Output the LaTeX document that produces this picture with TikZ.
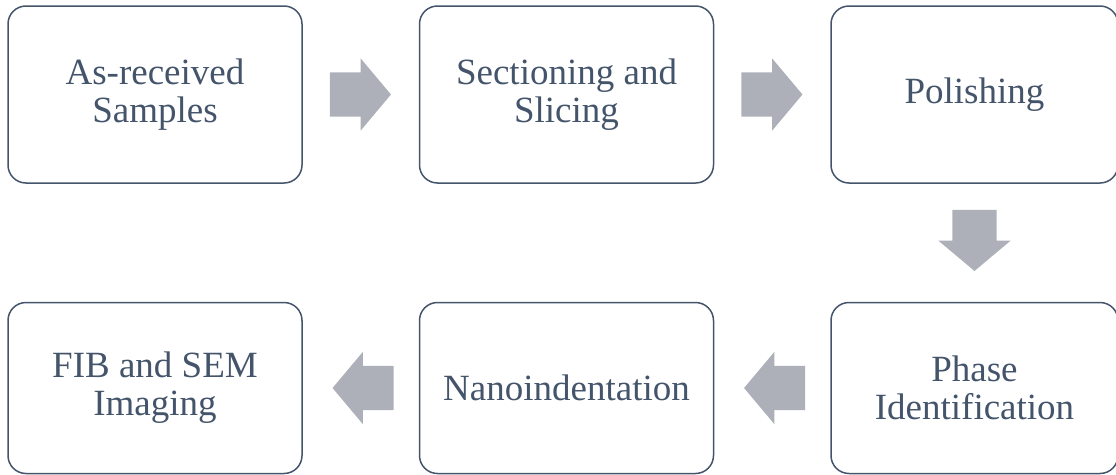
\documentclass[tikz,border=0pt]{standalone}
\usepackage{fontspec}
\setmainfont{Liberation Serif}
\usetikzlibrary{positioning,shapes.arrows,calc}
\definecolor{stageblue}{HTML}{44546A}
\definecolor{flowgray}{HTML}{ADB0B8}
\begin{document}
\begin{tikzpicture}[
    x=1pt, y=1pt,
    node distance=116pt,
    stage/.style={rectangle, draw=stageblue, line width=1.5pt, rounded corners=18pt, minimum width=294pt, minimum height=177pt, align=center, text=stageblue, font=\fontsize{37}{38}\selectfont},
    flow/.style={single arrow, fill=flowgray, draw=none, anchor=tail, minimum height=61pt, inner xsep=0pt, inner ysep=22pt, single arrow head extend=14pt, single arrow tip angle=100}
]
    \useasboundingbox (0,0) rectangle (1116,-474);

    % Top row
    \node [stage] (received) at (155,-94.5) {As-received\\Samples};
    \node [stage, right=of received] (slicing) {Sectioning and\\Slicing};
    \node [stage, right=of slicing, minimum width=287pt] (polish) {Polishing};

    % Bottom row
    \node [stage, below=118pt of polish, minimum width=287pt, minimum height=171pt] (phase) {Phase\\Identification};
    \node [stage, left=of phase, minimum height=171pt] (nano) {Nanoindentation};
    \node [stage, left=of nano, minimum height=171pt] (imaging) {FIB and SEM\\Imaging};

    % Block arrows (tail placed half a length before the gap's middle)
    \node [flow] (f1) at ($(received.east)!0.5!(slicing.west)+(-31,0)$) {};
    \node [flow] (f2) at ($(slicing.east)!0.5!(polish.west)+(-31,0)$) {};
    \node [flow, rotate=-90] (f3) at ($(polish.south)!0.5!(phase.north)+(0,33)$) {};
    \node [flow, rotate=180] (f4) at ($(phase.west)!0.5!(nano.east)+(33,0)$) {};
    \node [flow, rotate=180] (f5) at ($(nano.west)!0.5!(imaging.east)+(33,0)$) {};
\end{tikzpicture}
\end{document}
